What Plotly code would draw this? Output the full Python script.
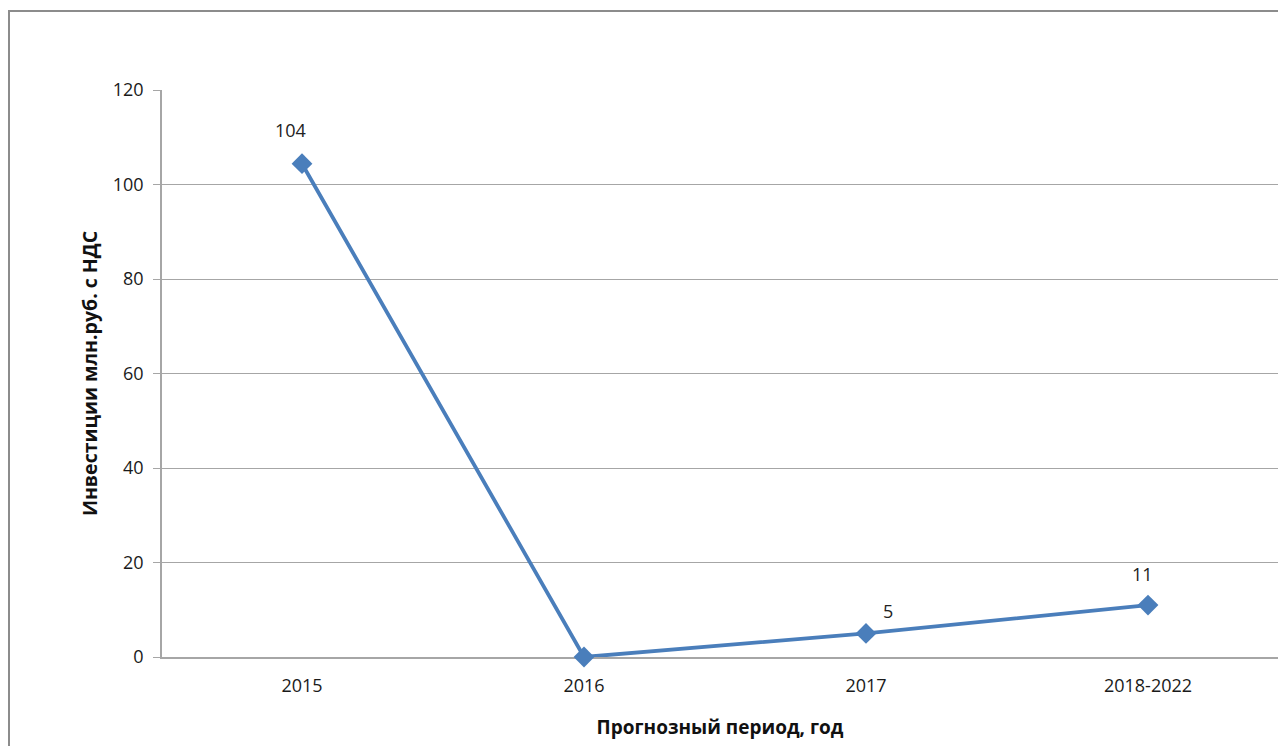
import plotly.graph_objects as go

categories = ["2015", "2016", "2017", "2018-2022"]
values = [104.4, 0, 5, 11]
labels = ["104", "", "5", "11"]
y_ticks = [0, 20, 40, 60, 80, 100, 120]

x_title = "Прогнозный период, год"
y_title = "Инвестиции млн.руб. с НДС"

line_color = "#4A7EBB"
grid_color = "#A6A6A6"
font_family = "Open Sans"

fig = go.Figure()
fig.add_trace(go.Scatter(
    x=categories, y=values, mode="lines+markers",
    line=dict(color=line_color, width=3.8),
    marker=dict(symbol="diamond", size=16, color=line_color),
    hoverinfo="x+y", showlegend=False, cliponaxis=False,
))

# label offsets (pixels) per point
label_offsets = [(-12, 34), (0, 0), (22, 22), (-6, 31)]
for i, (val, lab, (dx, dy)) in enumerate(zip(values, labels, label_offsets)):
    if lab:
        fig.add_annotation(x=i, y=val, text=lab, showarrow=False,
                           xshift=dx, yshift=dy,
                           font=dict(family=font_family, size=18, color="#222"))

fig.add_shape(type="rect", xref="paper", yref="paper",
              x0=-0.1371, y0=-0.4, x1=1.1, y1=1.1393,
              line=dict(color="#8C8C8C", width=2), layer="below")

fig.update_layout(
    width=1278, height=746,
    margin=dict(l=162, r=0, t=90, b=89),
    paper_bgcolor="white", plot_bgcolor="white",
    font=dict(family=font_family, size=18, color="#222"),
    xaxis=dict(
        type="category", range=[-0.4965, 3.461],
        showgrid=False, showline=True, linecolor=grid_color, linewidth=1.5,
        ticks="", ticklabelstandoff=12,
        tickfont=dict(family=font_family, size=18, color="#1a1a1a"),
        title=dict(text="<b>" + x_title + "</b>", standoff=24,
                   font=dict(family=font_family, size=19, color="#111")),
        zeroline=False, layer="below traces",
    ),
    yaxis=dict(
        range=[0, 120], tickvals=y_ticks, showgrid=True, gridcolor=grid_color,
        gridwidth=1, showline=True, linecolor=grid_color, linewidth=1.5,
        ticks="outside", ticklen=7, tickcolor=grid_color, tickwidth=1,
        ticklabelstandoff=6,
        tickfont=dict(family=font_family, size=18, color="#1a1a1a"),
        title=dict(text="<b>" + y_title + "</b>", standoff=10,
                   font=dict(family=font_family, size=19.5, color="#111")),
        zeroline=False, layer="below traces",
    ),
)

fig.write_html("out.html")
